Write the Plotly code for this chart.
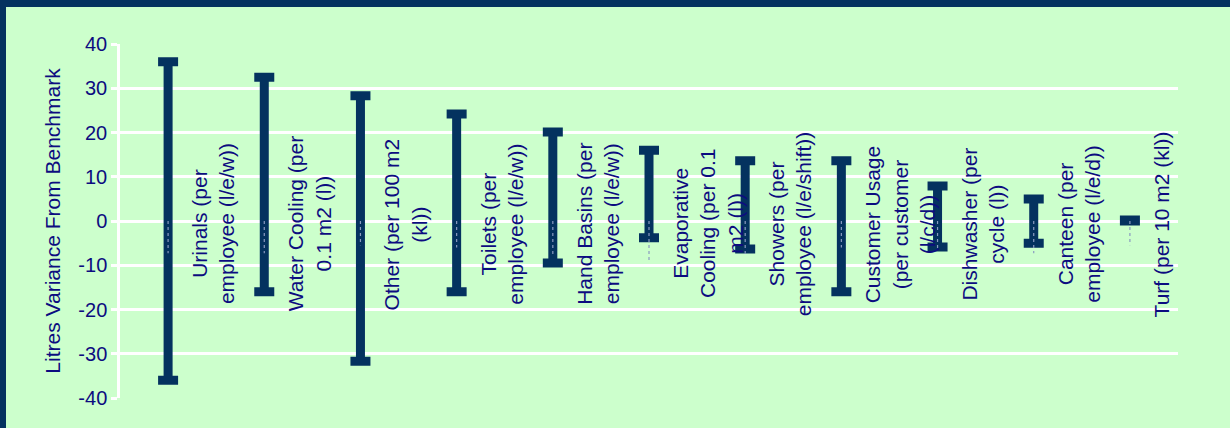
import plotly.graph_objects as go

# Range of litres variance from benchmark for each water use
labels = [
    "Urinals (per<br>employee (l/e/w))",
    "Water Cooling (per<br>0.1 m2 (l))",
    "Other (per 100 m2<br>(kl))",
    "Toilets (per<br>employee (l/e/w))",
    "Hand Basins (per<br>employee (l/e/w))",
    "Evaporative<br>Cooling (per 0.1<br>m2 (l))",
    "Showers (per<br>employee (l/e/shift))",
    "Customer Usage<br>(per customer<br>(l/c/d))",
    "Dishwasher (per<br>cycle (l))",
    "Canteen (per<br>employee (l/e/d))",
    "Turf (per 10 m2 (kl))",
]
high = [36.0, 32.5, 28.3, 24.2, 20.1, 16.0, 13.6, 13.6, 7.9, 5.0, 0.2]
low = [-36.0, -16.0, -31.7, -16.0, -9.5, -3.8, -6.3, -16.0, -5.9, -5.0, 0.0]
mid = [-7.3, -7.3, -5.5, -6.0, -8.0, -8.8, -8.0, -6.0, -6.5, -7.3, -5.5]

y_ticks = [40, 30, 20, 10, 0, -10, -20, -30, -40]

NAVY = "#04325f"
TEXT = "#0c0c80"
BG = "#ccffcc"
FONT = "Liberation Sans, Arial, sans-serif"

W, H = 1230, 428
ML, MR, MT, MB = 120, 52, 44, 30

xs = list(range(len(labels)))

fig = go.Figure()

# high-low bars with caps at both ends
fig.add_trace(go.Scatter(
    x=xs, y=low, mode="markers",
    marker=dict(size=1, opacity=0),
    error_y=dict(type="data", symmetric=False,
                 array=[h - l for h, l in zip(high, low)],
                 arrayminus=[0] * len(low),
                 color=NAVY, thickness=9, width=10),
    hoverinfo="skip", showlegend=False,
))

# thin dotted marker running down from zero
for x, m in zip(xs, mid):
    fig.add_trace(go.Scatter(
        x=[x, x], y=[0, m], mode="lines",
        line=dict(color="#8a9ac0", width=1.2, dash="dot"),
        hoverinfo="skip", showlegend=False,
    ))

for x, t in zip(xs, labels):
    fig.add_annotation(
        x=x, y=0, xref="x", yref="y", text=t, textangle=-90,
        showarrow=False, xanchor="left", yanchor="middle",
        xshift=18, yshift=-3, align="center",
        font=dict(family=FONT, size=21, color=TEXT),
    )

pw = W - ML - MR
ph = H - MT - MB
top = (ph + MT) / ph
bottom = -MB / ph
# dark frame along the left and top edges
fig.add_shape(type="rect", xref="paper", yref="paper",
              x0=-ML / pw, x1=(6 - ML) / pw, y0=bottom, y1=top,
              line=dict(width=0), fillcolor=NAVY, layer="above")
fig.add_shape(type="rect", xref="paper", yref="paper",
              x0=-ML / pw, x1=(W - ML) / pw, y0=(ph + MT - 7) / ph, y1=top,
              line=dict(width=0), fillcolor=NAVY, layer="above")

fig.update_layout(
    width=W, height=H,
    margin=dict(l=ML, r=MR, t=MT, b=MB, pad=0),
    paper_bgcolor=BG, plot_bgcolor=BG,
    font=dict(family=FONT, color=TEXT),
    xaxis=dict(range=[-0.5, len(labels) - 0.5], showgrid=False, zeroline=False,
               showticklabels=False, ticks="", showline=False, fixedrange=True),
    yaxis=dict(range=[-40, 40], tickvals=y_ticks, ticktext=[str(v) for v in y_ticks],
               showgrid=True, gridcolor="white", gridwidth=2.5,
               zeroline=False, showline=True, linecolor="white", linewidth=2.5,
               ticks="outside", ticklen=6, tickcolor="white", tickwidth=2.5,
               tickfont=dict(family=FONT, size=20, color=TEXT),
               title=dict(text="Litres Variance From Benchmark", standoff=12,
                          font=dict(family=FONT, size=21, color=TEXT)),
               fixedrange=True),
)

fig.write_html("out.html")
